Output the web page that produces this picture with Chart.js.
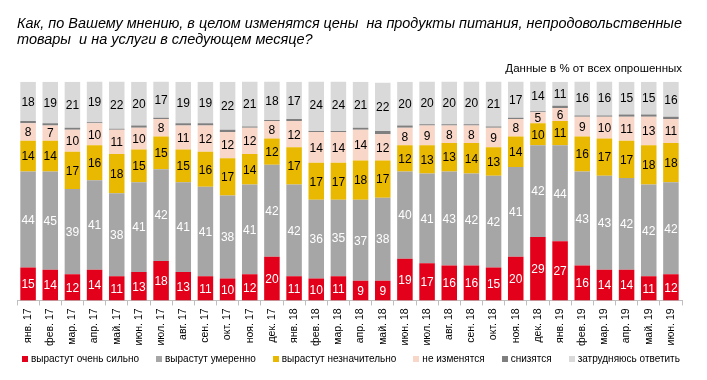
<!DOCTYPE html>
<html>
<head>
<meta charset="utf-8">
<script src="https://cdn.jsdelivr.net/npm/chart.js@4"></script>
<style>
  html, body { margin: 0; padding: 0; background: #fff; }
  #wrap { width: 707px; height: 380px; position: relative; }
  #legend { position: absolute; left: 22px; top: 353px; display: flex; font: 10px 'Liberation Sans', Arial, sans-serif; color: #000; white-space: nowrap; }
  #legend .item { display: flex; align-items: center; margin-right: 17px; }
  #legend .box { width: 6px; height: 6px; margin-right: 3px; }
</style>
</head>
<body>
<div id="wrap"><canvas id="priceChart"></canvas><div id="legend"></div></div>
<script>
// Monthly survey: expected price changes next month (% of all respondents)
const months = [
    'янв. 17', 'фев. 17', 'мар. 17', 'апр. 17', 'май. 17', 'июн. 17', 'июл. 17', 'авг. 17', 'сен. 17', 'окт. 17',
    'ноя. 17', 'дек. 17', 'янв. 18', 'фев. 18', 'мар. 18', 'апр. 18', 'май. 18', 'июн. 18', 'июл. 18', 'авг. 18',
    'сен. 18', 'окт. 18', 'ноя. 18', 'дек. 18', 'янв. 19', 'фев. 19', 'мар. 19', 'апр. 19', 'май. 19', 'июн. 19'
];
const riseStrong   = [15, 14, 12, 14, 11, 13, 18, 13, 11, 10, 12, 20, 11, 10, 11, 9, 9, 19, 17, 16, 16, 15, 20, 29, 27, 16, 14, 14, 11, 12];
const riseModerate = [44, 45, 39, 41, 38, 41, 42, 41, 41, 38, 41, 42, 42, 36, 35, 37, 38, 40, 41, 43, 42, 42, 41, 42, 44, 43, 43, 42, 42, 42];
const riseSlight   = [14, 14, 17, 16, 18, 15, 15, 15, 16, 17, 14, 12, 17, 17, 17, 18, 17, 12, 13, 13, 14, 13, 14, 10, 11, 16, 17, 17, 18, 18];
const noChange     = [8, 7, 10, 10, 11, 10, 8, 11, 12, 12, 12, 8, 12, 14, 14, 14, 12, 8, 9, 8, 8, 9, 8, 5, 6, 9, 10, 11, 13, 11];
const decrease     = [1, 1, 1, 0.5, 0.5, 1, 0.5, 1, 1, 1, 0.5, 0.5, 1, 0.5, 0.5, 1, 1.5, 1, 0.5, 0.5, 0.5, 0.5, 0.5, 0.5, 1, 0.5, 0.5, 1, 1, 1];
const hardToSay    = [18, 19, 21, 19, 22, 20, 17, 19, 19, 22, 21, 18, 17, 24, 24, 21, 22, 20, 20, 20, 20, 21, 17, 14, 11, 16, 16, 15, 15, 16];

const seriesNames = ['вырастут очень сильно', 'вырастут умеренно', 'вырастут незначительно', 'не изменятся', 'снизятся', 'затрудняюсь ответить'];
const seriesColors = ['#e2001a', '#a6a6a6', '#e9b800', '#f8d6c8', '#7f7f7f', '#d9d9d9'];
const labelColors = ['#ffffff', '#ffffff', '#000000', '#000000', null, '#000000'];

const FONT = "'Liberation Sans', Arial, sans-serif";

// Simple value labels in the middle of each segment
const segmentLabels = {
    id: 'segmentLabels',
    afterDatasetsDraw(chart) {
        const ctx = chart.ctx;
        ctx.save();
        ctx.font = '12px ' + FONT;
        ctx.textAlign = 'center';
        ctx.textBaseline = 'middle';
        chart.data.datasets.forEach((ds, i) => {
            if (!labelColors[i]) return;
            const meta = chart.getDatasetMeta(i);
            ctx.fillStyle = labelColors[i];
            meta.data.forEach((bar, j) => {
                const p = bar.getProps(['x', 'y', 'base'], true);
                ctx.fillText(String(ds.data[j]), p.x, (p.y + p.base) / 2 + 1);
            });
        });
        ctx.restore();
    }
};

const seriesData = [riseStrong, riseModerate, riseSlight, noChange, decrease, hardToSay];

const chart = new Chart(document.getElementById('priceChart'), {
    type: 'bar',
    data: {
        labels: months,
        datasets: seriesData.map((d, i) => ({
            label: seriesNames[i],
            data: d,
            backgroundColor: seriesColors[i],
            borderWidth: 0,
            categoryPercentage: 1,
            barPercentage: 0.7
        }))
    },
    options: {
        responsive: true,
        maintainAspectRatio: false,
        animation: false,
        layout: { padding: { left: 17, right: 25, top: 4, bottom: 31 } },
        plugins: {
            title: {
                display: true,
                text: ['Как, по Вашему мнению, в целом изменятся цены  на продукты питания, непродовольственные', 'товары  и на услуги в следующем месяце?'],
                align: 'start',
                color: '#000',
                font: { family: FONT, size: 14.5, style: 'italic', weight: 'normal', lineHeight: 1.1 },
                padding: { top: 12, bottom: 14 }
            },
            subtitle: {
                display: true,
                text: 'Данные в % от всех опрошенных',
                align: 'end',
                color: '#000',
                font: { family: FONT, size: 11.5 },
                padding: { top: 0, bottom: 6 }
            },
            legend: { display: false },
            tooltip: { enabled: false }
        },
        scales: {
            x: {
                stacked: true,
                grid: { display: true, drawOnChartArea: false, drawTicks: true, tickLength: 5, color: '#bfbfbf' },
                border: { display: true, color: '#bfbfbf' },
                ticks: { color: '#000', font: { family: FONT, size: 10.5 }, minRotation: 90, maxRotation: 90, padding: 3 }
            },
            y: {
                stacked: true,
                display: false,
                min: 0,
                max: 100
            }
        }
    },
    plugins: [segmentLabels]
});

// Legend built from the dataset names and colours
const legendEl = document.getElementById('legend');
chart.data.datasets.forEach(ds => {
    const item = document.createElement('span');
    item.className = 'item';
    const box = document.createElement('span');
    box.className = 'box';
    box.style.background = ds.backgroundColor;
    item.appendChild(box);
    item.appendChild(document.createTextNode(ds.label));
    legendEl.appendChild(item);
});
</script>
</body>
</html>
